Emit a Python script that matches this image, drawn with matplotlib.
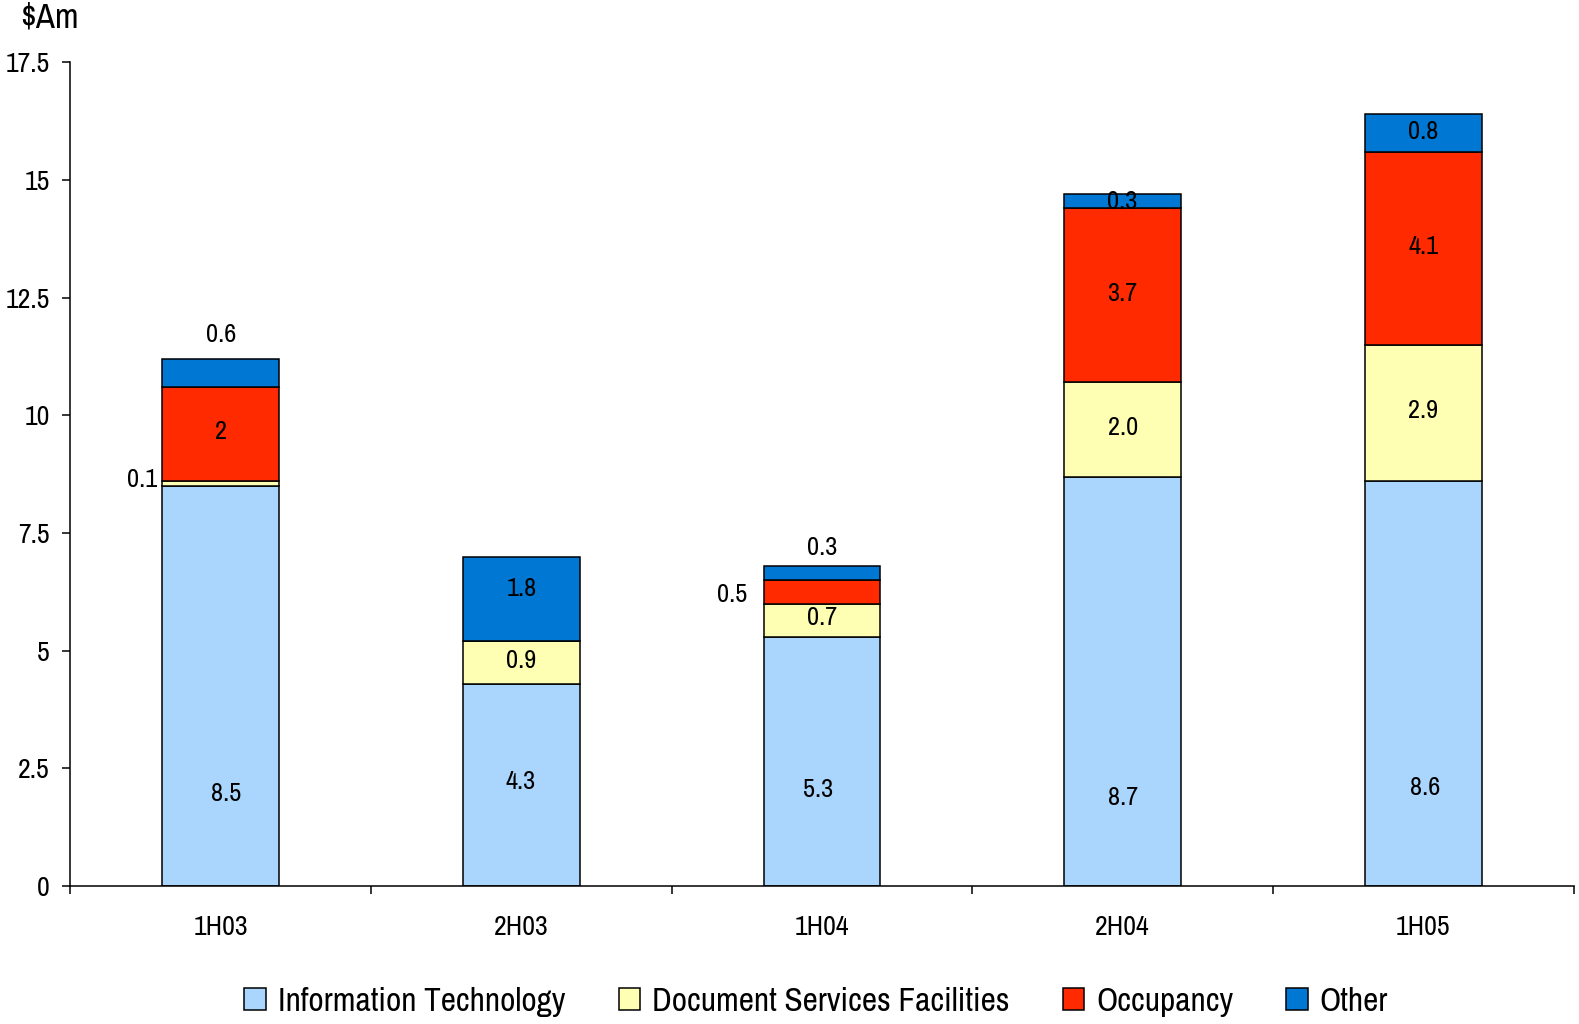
import matplotlib
matplotlib.use("Agg")
import matplotlib.pyplot as plt
import numpy as np

plt.rcParams["font.family"] = ["Archivo Narrow", "Liberation Sans", "DejaVu Sans"]

# Half-year expense breakdown ($Am)
periods = ["1H03", "2H03", "1H04", "2H04", "1H05"]
series_names = ["Information Technology", "Document Services Facilities", "Occupancy", "Other"]
it_vals = [8.5, 4.3, 5.3, 8.7, 8.6]
dsf_vals = [0.1, 0.9, 0.7, 2.0, 2.9]
occ_vals = [2.0, 0.0, 0.5, 3.7, 4.1]
other_vals = [0.6, 1.8, 0.3, 0.3, 0.8]

occ_text = ["2", "", "0.5", "3.7", "4.1"]
colors = ["#AAD5FD", "#FFFFB3", "#FF2A00", "#0077D2"]

# where the IT labels sit (value units), they sit low in the bar
it_label_y = [1.97, 2.22, 2.05, 1.88, 2.1]
it_label_dx = [0.017, -0.003, -0.013, 0.0, 0.007]

fig = plt.figure(figsize=(15.79, 10.24), dpi=100)
ax = fig.add_axes([0.0446, 0.1347, 0.952, 0.8043])

x = np.arange(len(periods))
w = 0.388
stack = [it_vals, dsf_vals, occ_vals, other_vals]
bottom = np.zeros(len(periods))
for vals, c, name in zip(stack, colors, series_names):
    ax.bar(x, vals, w, bottom=bottom, color=c, edgecolor="black", linewidth=1.1, label=name)
    bottom += np.array(vals)

fs = 19
# IT labels
for i, v in enumerate(it_vals):
    ax.text(x[i] + it_label_dx[i], it_label_y[i], f"{v:.1f}", ha="center", va="center", fontsize=fs)

# Document services
for i, v in enumerate(dsf_vals):
    base = it_vals[i]
    if v < 0.3:
        ax.text(x[i] - w / 2 - 0.017, base + v / 2 + 0.09, f"{v:.1f}", ha="right", va="center", fontsize=fs)
    else:
        ax.text(x[i], base + v / 2 + 0.05, f"{v:.1f}", ha="center", va="center", fontsize=fs)

# Occupancy
for i, v in enumerate(occ_vals):
    if v == 0:
        continue
    base = it_vals[i] + dsf_vals[i]
    if v < 1:
        ax.text(x[i] - w / 2 - 0.054, base + v / 2 - 0.05, occ_text[i], ha="right", va="center", fontsize=fs)
    else:
        ax.text(x[i], base + v / 2 + 0.05, occ_text[i], ha="center", va="center", fontsize=fs)

# Other: small top segments on 1H03 / 1H04 get their label above the bar
above_gap = {0: 0.51, 2: 0.39}
other_dy = [0, 0.22, 0, 0.0, 0.03]
for i, v in enumerate(other_vals):
    base = it_vals[i] + dsf_vals[i] + occ_vals[i]
    if i in above_gap:
        ax.text(x[i], base + v + above_gap[i], f"{v:.1f}", ha="center", va="center", fontsize=fs)
    else:
        ax.text(x[i], base + v / 2 + other_dy[i], f"{v:.1f}", ha="center", va="center", fontsize=fs)

ax.set_xlim(-0.5, len(periods) - 0.5)
ax.set_ylim(0, 17.5)
ax.set_yticks(np.arange(0, 17.6, 2.5))
ax.set_yticklabels(["0", "2.5", "5", "7.5", "10", "12.5", "15", "17.5"])
ax.set_xticks(x)
ax.set_xticklabels(periods)
ax.set_xticks(np.arange(-0.5, len(periods)), minor=True)
ax.tick_params(axis="x", which="major", length=0, pad=21, labelsize=20)
ax.tick_params(axis="x", which="minor", length=6, width=1.1, direction="out")
ax.tick_params(axis="y", length=6, width=1.1, direction="out", pad=9, labelsize=20)

for s in ("top", "right"):
    ax.spines[s].set_visible(False)
for s in ("left", "bottom"):
    ax.spines[s].set_linewidth(1.1)

fig.text(0.0128, 0.983, "$Am", fontsize=25, ha="left", va="center")

fig.legend(loc="center", bbox_to_anchor=(0.517, 0.0216), ncol=4, frameon=False,
           fontsize=24, handlelength=0.65, handleheight=0.65, handletextpad=0.35,
           columnspacing=1.6)

fig.savefig("out.png", dpi=100)
